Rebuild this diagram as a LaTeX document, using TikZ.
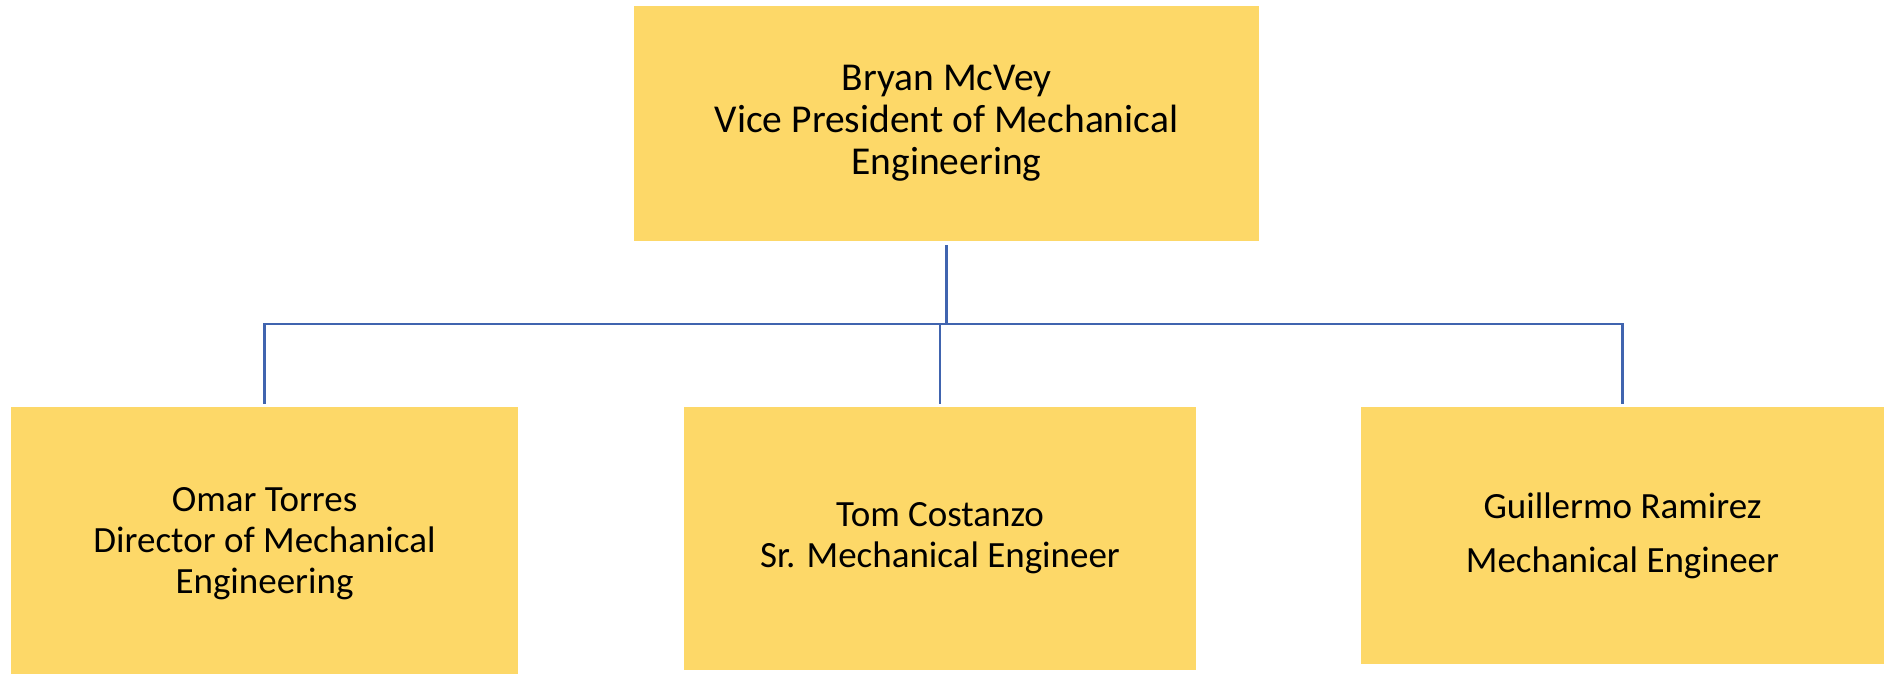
\documentclass[tikz,border=0pt]{standalone}
\usepackage{fontspec}
\setmainfont{Carlito}
\definecolor{boxfill}{RGB}{253,216,104}
\definecolor{linecol}{RGB}{64,100,175}
\begin{document}
\begin{tikzpicture}[x=1pt,y=1pt,
  box/.style={fill=boxfill, draw=none, inner sep=0pt, align=center,
    font=\fontsize{39.5}{42}\selectfont},
  subbox/.style={box, font=\fontsize{37}{41}\selectfont},
  conn/.style={draw=linecol, line width=2.6pt}]
\useasboundingbox (0,0) rectangle (1887,-673);
\node[box, minimum width=625pt, minimum height=235pt] (vp) at (946.5,-123.5)
  {Bryan McVey\\Vice President of Mechanical\\Engineering};
\node[subbox, minimum width=507pt, minimum height=274pt] (omar) at (264.5,-544)
  {Omar Torres\\Director of Mechanical\\Engineering};
\node[subbox, minimum width=512pt, minimum height=263pt] (tom) at (940,-538.5)
  {Tom Costanzo\\Sr. Mechanical Engineer};
\node[subbox, minimum width=523pt, minimum height=257pt] (guil) at (1622.5,-535.5)
  {Guillermo Ramirez\\[13pt]Mechanical Engineer};
\coordinate (bus) at (0,-324);
\draw[conn, shorten <=4pt] (vp.south) -- (vp.south |- bus);
\draw[conn, shorten <=3pt, shorten >=3pt] (omar.north) -- (omar.north |- bus) -- (guil.north |- bus) -- (guil.north);
\draw[conn, shorten >=3pt] (tom.north |- bus) -- (tom.north);
\end{tikzpicture}
\end{document}
